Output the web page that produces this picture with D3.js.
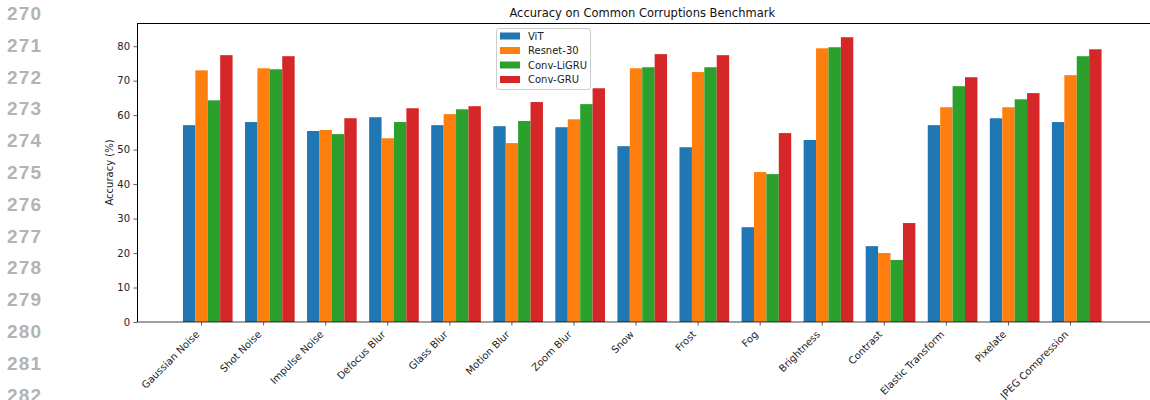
<!DOCTYPE html>
<html>
<head>
<meta charset="utf-8">
<script src="https://cdn.jsdelivr.net/npm/d3@7"></script>
<style>
  html, body { margin: 0; padding: 0; background: #fff; }
  svg { display: block; }
</style>
</head>
<body>
<svg id="chart" width="1150" height="400"></svg>
<script>
// Corruption types on the x axis
const categories = [
  "Gaussian Noise", "Shot Noise", "Impulse Noise", "Defocus Blur", "Glass Blur",
  "Motion Blur", "Zoom Blur", "Snow", "Frost", "Fog", "Brightness", "Contrast",
  "Elastic Transform", "Pixelate", "JPEG Compression"
];

// Accuracy (%) per model
const seriesNames = ["ViT", "Resnet-30", "Conv-LiGRU", "Conv-GRU"];
const vit       = [57.1, 58.0, 55.4, 59.4, 57.1, 56.8, 56.5, 51.0, 50.7, 27.5, 52.8, 22.0, 57.1, 59.1, 58.0];
const resnet30  = [73.0, 73.6, 55.7, 53.3, 60.3, 51.9, 58.8, 73.6, 72.5, 43.5, 79.4, 20.0, 62.3, 62.3, 71.6];
const convLiGRU = [64.3, 73.3, 54.5, 58.0, 61.7, 58.3, 63.2, 73.9, 73.9, 42.9, 79.7, 18.0, 68.4, 64.6, 77.1];
const convGRU   = [77.4, 77.1, 59.1, 62.0, 62.6, 63.8, 67.8, 77.7, 77.4, 54.8, 82.6, 28.7, 71.0, 66.4, 79.1];
const seriesValues = [vit, resnet30, convLiGRU, convGRU];

const yTicks = [0, 10, 20, 30, 40, 50, 60, 70, 80];
const lineNumbers = [270, 271, 272, 273, 274, 275, 276, 277, 278, 279, 280, 281, 282];

const colors = ["#1f77b4", "#ff7f0e", "#2ca02c", "#d62728"];
const barW = 0.2;

const svg = d3.select("#chart");

// Margin line numbers (the last one runs off the bottom edge)
svg.append("g")
  .selectAll("text")
  .data(lineNumbers)
  .join("text")
  .attr("x", 7)
  .attr("y", (d, i) => 20 + i * 31.8)
  .attr("font-family", "Liberation Sans, Arial, sans-serif")
  .attr("font-weight", "bold")
  .attr("font-size", 19)
  .attr("letter-spacing", 1.2)
  .attr("fill", "#b3b3b3")
  .text(d => d);

const plot = { left: 137, right: 1147.5, top: 23, bottom: 322 };

// x in group units: bar k of group i is centred at i + k*barW, tick at i + barW
const n = categories.length;
const dataMin = -barW / 2;
const dataMax = (n - 1) + 3 * barW + barW / 2;
const pad = (dataMax - dataMin) * 0.05;
const x = d3.scaleLinear()
  .domain([dataMin - pad, dataMax + pad])
  .range([plot.left, plot.right]);

const yMax = d3.max(seriesValues.flat()) * 1.05;
const y = d3.scaleLinear()
  .domain([0, yMax])
  .range([plot.bottom, plot.top]);

// Bars
const bars = svg.append("g");
seriesValues.forEach((vals, k) => {
  bars.append("g")
    .attr("fill", colors[k])
    .selectAll("rect")
    .data(vals)
    .join("rect")
    .attr("x", (d, i) => x(i + k * barW - barW / 2))
    .attr("width", x(barW) - x(0))
    .attr("y", d => y(d))
    .attr("height", d => y(0) - y(d));
});

// Baseline at zero
svg.append("line")
  .attr("x1", plot.left).attr("x2", 1150)
  .attr("y1", y(0)).attr("y2", y(0))
  .attr("stroke", "#000")
  .attr("stroke-opacity", 0.5)
  .attr("stroke-width", 1.6);

// Y axis
const yAxis = d3.axisLeft(y)
  .tickValues(yTicks)
  .tickSize(3.5)
  .tickPadding(3.5)
  .tickFormat(d3.format("d"));
const yg = svg.append("g")
  .attr("transform", `translate(${plot.left},0)`)
  .call(yAxis);
yg.select(".domain").remove();
yg.selectAll(".tick line").attr("stroke", "#333").attr("stroke-width", 0.8);
yg.selectAll(".tick text")
  .attr("font-family", "DejaVu Sans, sans-serif")
  .attr("font-size", 10)
  .attr("fill", "#222");

// Spines: left and top
svg.append("line")
  .attr("x1", plot.left + 0.5).attr("x2", plot.left + 0.5)
  .attr("y1", plot.top).attr("y2", plot.bottom)
  .attr("stroke", "#000").attr("stroke-width", 1);
svg.append("line")
  .attr("x1", plot.left).attr("x2", 1150)
  .attr("y1", plot.top + 0.5).attr("y2", plot.top + 0.5)
  .attr("stroke", "#000").attr("stroke-width", 1);

// X axis ticks and rotated labels
const xg = svg.append("g");
const xt = xg.selectAll("g")
  .data(categories)
  .join("g")
  .attr("transform", (d, i) => `translate(${x(i + barW)},${y(0)})`);
xt.append("line")
  .attr("y1", 0).attr("y2", 3.5)
  .attr("stroke", "#333").attr("stroke-width", 0.8);
xt.append("text")
  .attr("transform", "translate(-1.5,13) rotate(-45)")
  .attr("text-anchor", "end")
  .attr("font-family", "DejaVu Sans, sans-serif")
  .attr("font-size", 10)
  .attr("fill", "#222")
  .text(d => d);

// Title
svg.append("text")
  .attr("x", (plot.left + plot.right) / 2)
  .attr("y", 17)
  .attr("text-anchor", "middle")
  .attr("font-family", "DejaVu Sans, sans-serif")
  .attr("font-size", 11.5)
  .attr("fill", "#111")
  .text("Accuracy on Common Corruptions Benchmark");

// Y axis label
svg.append("text")
  .attr("transform", `translate(112.5,${(plot.top + plot.bottom) / 2}) rotate(-90)`)
  .attr("text-anchor", "middle")
  .attr("font-family", "DejaVu Sans, sans-serif")
  .attr("font-size", 10)
  .attr("fill", "#222")
  .text("Accuracy (%)");

// Legend
const legend = svg.append("g").attr("transform", "translate(496,28)");
legend.append("rect")
  .attr("x", 0.5).attr("y", 0.5)
  .attr("width", 94).attr("height", 61)
  .attr("rx", 2.5)
  .attr("fill", "#fff").attr("fill-opacity", 0.8)
  .attr("stroke", "#ccc").attr("stroke-width", 1);
const items = legend.selectAll("g.item")
  .data(seriesNames)
  .join("g")
  .attr("class", "item")
  .attr("transform", (d, i) => `translate(0,${8 + i * 14.5})`);
items.append("rect")
  .attr("x", 4).attr("y", -3.5)
  .attr("width", 20).attr("height", 7)
  .attr("fill", (d, i) => colors[i]);
items.append("text")
  .attr("x", 32).attr("y", 3.6)
  .attr("font-family", "DejaVu Sans, sans-serif")
  .attr("font-size", 10)
  .attr("fill", "#222")
  .text(d => d);
</script>
</body>
</html>
